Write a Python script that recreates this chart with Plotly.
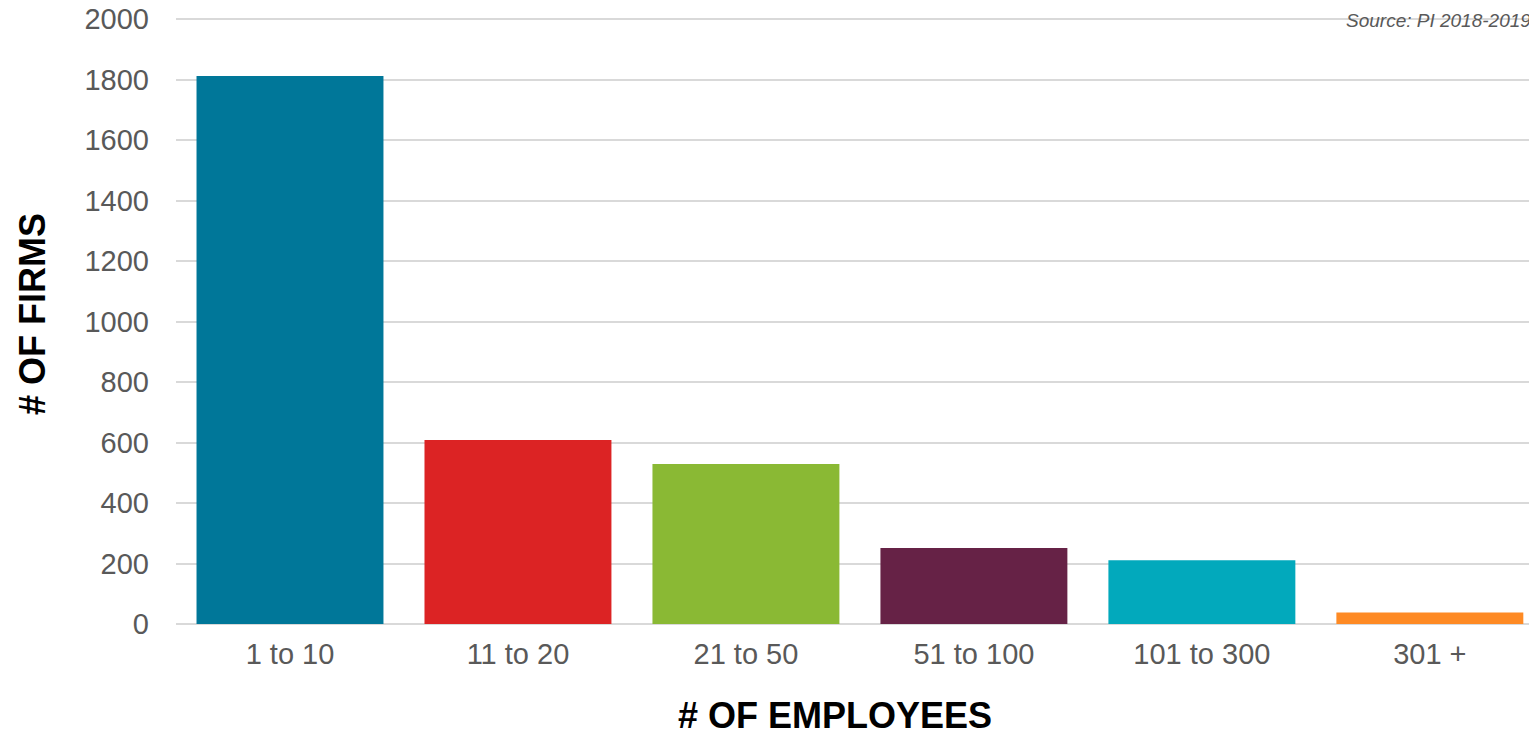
import plotly.graph_objects as go

categories = ["1 to 10", "11 to 20", "21 to 50", "51 to 100", "101 to 300", "301 +"]
firms = [1812, 608, 529, 251, 211, 38]
bar_colors = ["#007799", "#dc2324", "#8ab934", "#662246", "#02a9bc", "#fe8a24"]
y_ticks = [0, 200, 400, 600, 800, 1000, 1200, 1400, 1600, 1800, 2000]
source_text = "Source: PI 2018-2019"
x_title = "# OF EMPLOYEES"
y_title = "# OF FIRMS"

OFF = 8  # default page body margin
W, H = 1537 - OFF, 735 - OFF
L, R, T, B = 176 - OFF, 0, 16 - OFF, 111
PW, PH = W - L - R, H - T - B

fig = go.Figure(go.Bar(
    x=categories, y=firms, marker=dict(color=bar_colors, line=dict(width=0)),
    width=0.82, hoverinfo="x+y",
))

fig.update_layout(
    width=W, height=H,
    margin=dict(l=L, r=R, t=T, b=B, pad=0, autoexpand=False),
    paper_bgcolor="white", plot_bgcolor="white",
    font=dict(family="Liberation Sans, Arial, sans-serif", color="#595959"),
    showlegend=False,
    bargap=0.18,
)
fig.update_xaxes(
    range=[-0.5, 5.47], showgrid=False, showline=False, zeroline=False, automargin=False,
    tickfont=dict(size=29, color="#595959"), ticks="", ticklabelstandoff=10,
)
fig.update_yaxes(
    range=[0, 2010], tickvals=y_ticks, showgrid=True, gridcolor="#d9d9d9", gridwidth=2,
    zeroline=True, zerolinecolor="#d9d9d9", zerolinewidth=2, showline=False, automargin=False,
    tickfont=dict(size=29, color="#595959"), ticks="", ticklabelstandoff=26,
    ticklabeloverflow="allow",
)
fig.add_annotation(
    text="<b>" + x_title + "</b>", xref="paper", yref="paper",
    x=(835 - OFF - L) / PW, y=-(715 - OFF - T - PH) / PH,
    xanchor="center", yanchor="middle", showarrow=False,
    font=dict(size=36, color="black"),
)
fig.add_annotation(
    text="<b>" + y_title + "</b>", xref="paper", yref="paper",
    x=-(L - (33 - OFF)) / PW, y=1 - (314 - OFF - T) / PH, textangle=-90,
    xanchor="center", yanchor="middle", showarrow=False,
    font=dict(size=36, color="black"),
)
fig.add_annotation(
    text="<i>" + source_text + "</i>", xref="paper", yref="paper",
    x=1 - 4 / PW, y=1 + T / PH,
    xanchor="right", yanchor="top", showarrow=False,
    font=dict(size=19, color="#595959"),
)

fig.write_html("out.html")
